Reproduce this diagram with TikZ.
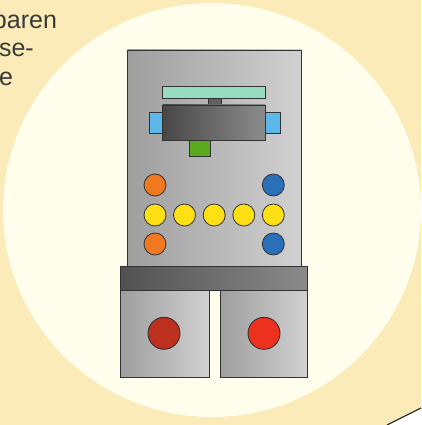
\documentclass[tikz,border=0pt]{standalone}
\usepackage{fontspec}
\setmainfont{Liberation Sans}
\usetikzlibrary{shapes.geometric}

\definecolor{paperOuter}{RGB}{251,235,184}
\definecolor{paperInner}{RGB}{255,253,236}
\definecolor{inkText}{RGB}{58,58,58}
\definecolor{edgeGray}{RGB}{50,50,50}
\definecolor{mint}{RGB}{150,220,192}
\definecolor{tabBlue}{RGB}{92,184,232}
\definecolor{leafGreen}{RGB}{90,170,32}
\definecolor{ledOrange}{RGB}{240,120,32}
\definecolor{ledBlue}{RGB}{42,112,184}
\definecolor{ledYellow}{RGB}{255,224,20}
\definecolor{knobDark}{RGB}{190,48,30}
\definecolor{knobBright}{RGB}{236,50,30}

\tikzset{
  part/.style={rectangle, draw=edgeGray, line width=0.9pt, inner sep=0pt, outer sep=0pt},
  metal/.style={part, left color=black!38, right color=black!18},
  darkmetal/.style={part, left color=black!68, right color=black!46},
  led/.style={circle, draw=edgeGray, line width=0.8pt, inner sep=0pt, minimum size=22pt},
  knob/.style={circle, draw=edgeGray, line width=0.9pt, inner sep=0pt, minimum size=32pt},
  caption/.style={anchor=base west, inner sep=0pt, text=inkText, font=\fontsize{25}{29}\selectfont}
}

\begin{document}
\begin{tikzpicture}[x=1pt, y=-1pt]
  % page and the light spot behind the device
  \useasboundingbox (0,0) rectangle (421,425);
  \fill[paperOuter] (0,0) rectangle (421,425);
  \fill[paperInner] (212,210) ellipse [x radius=209, y radius=207];

  % folded corner at the lower right
  \coordinate (foldA) at (387,425);
  \coordinate (foldB) at (421,408);
  \coordinate (foldC) at (421,425);
  \fill[white] (foldA) -- (foldB) -- (foldC) -- cycle;
  \draw[edgeGray, line width=1.2pt] (foldA) -- (foldB);

  % running text at the left margin
  \node[caption] (line1) at (-7.2,28.3) {baren};
  \node[caption] (line2) at (-1.2,56.7) {se-};
  \node[caption] (line3) at (-1.0,86) {e};

  % housing
  \node[metal, minimum width=174pt, minimum height=216.5pt] (panel) at (214.5,158.25) {};
  \node[darkmetal, minimum width=186.8pt, minimum height=23.5pt] (band) at (214.1,278.25) {};
  \node[metal, minimum width=88.3pt, minimum height=87.3pt] (leftbox) at (164.85,333.65) {};
  \node[metal, minimum width=87.5pt, minimum height=87.3pt] (rightbox) at (263.75,333.65) {};

  % top assembly
  \node[part, fill=tabBlue, minimum width=14.3pt, minimum height=21pt] (tabL) at (156.15,122.8) {};
  \node[part, fill=tabBlue, minimum width=14.6pt, minimum height=21pt] (tabR) at (273,122.8) {};
  \node[part, fill=mint, minimum width=103pt, minimum height=11.6pt] (bar) at (214.2,92.5) {};
  \node[part, fill=black!62, minimum width=12.7pt, minimum height=6.7pt] (stem) at (214.65,101.65) {};
  \node[darkmetal, left color=black!72, right color=black!45, minimum width=103pt, minimum height=35.7pt] (head) at (214.2,122.85) {};
  \node[part, fill=leafGreen, minimum width=21.4pt, minimum height=15.3pt] (foot) at (200,148.35) {};

  % indicator lamps
  \node[led, fill=ledOrange] (o1) at (155,185) {};
  \node[led, fill=ledBlue]   (b1) at (273.3,185) {};
  \node[led, fill=ledYellow] (y1) at (155,215) {};
  \node[led, fill=ledYellow] (y2) at (184.5,215) {};
  \node[led, fill=ledYellow] (y3) at (214.2,215) {};
  \node[led, fill=ledYellow] (y4) at (243.8,215) {};
  \node[led, fill=ledYellow] (y5) at (273.3,215) {};
  \node[led, fill=ledOrange] (o2) at (155,244) {};
  \node[led, fill=ledBlue]   (b2) at (273.3,244) {};

  % buttons
  \node[knob, fill=knobDark]   (knobL) at (164,333.3) {};
  \node[knob, fill=knobBright] (knobR) at (264,333.3) {};
\end{tikzpicture}
\end{document}
